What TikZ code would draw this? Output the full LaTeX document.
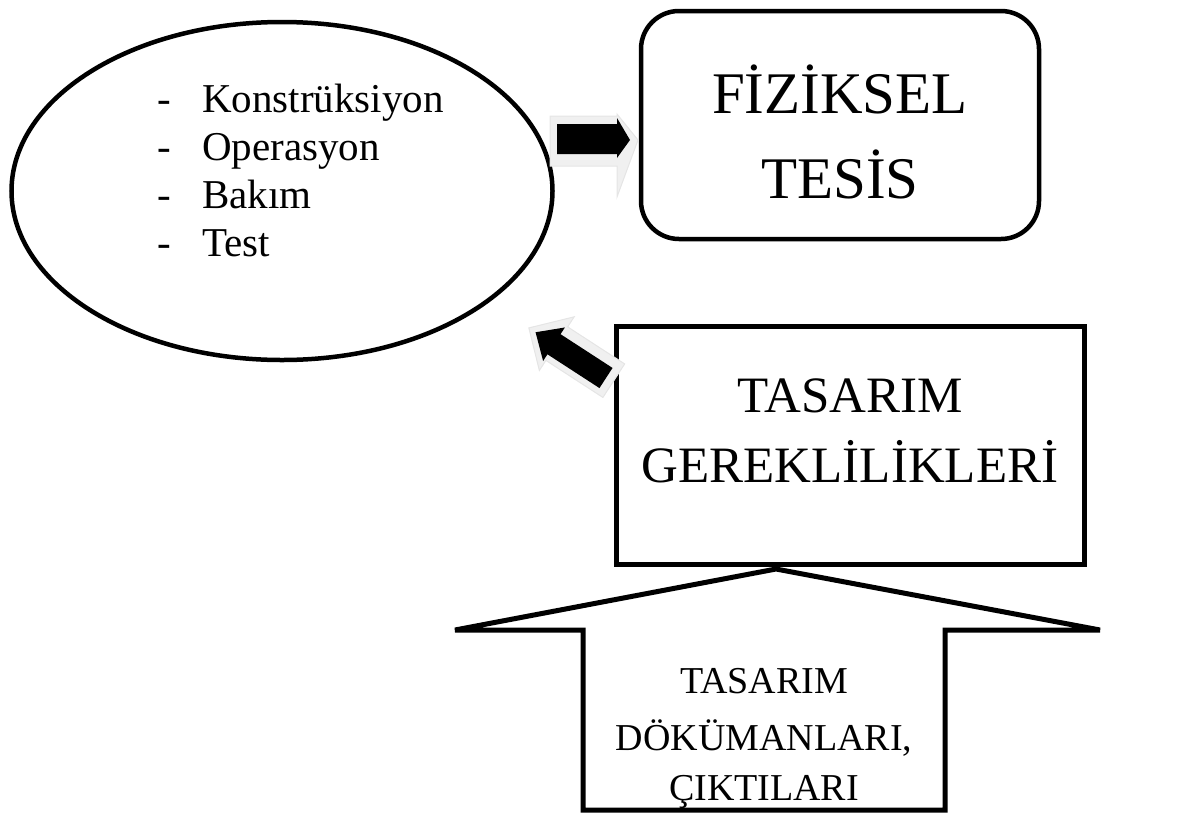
\documentclass[tikz,border=0pt]{standalone}
\usepackage{fontspec}
\setmainfont{Liberation Serif}
\newfontfamily\tnr{Liberation Serif}
\usetikzlibrary{shapes.geometric}
\begin{document}
\begin{tikzpicture}[x=1pt,y=-1pt,
  outline/.style={draw=black,line width=4.5pt},
  shadowarrow/.style={fill=gray!12,draw=gray!20,line width=1pt},
  blackarrow/.style={fill=black},
  lbl/.style={inner sep=0pt,font=\tnr},
  item/.style={anchor=base west,inner sep=0pt,font=\tnr\fontsize{41}{46}\selectfont}]
\useasboundingbox (0,0) rectangle (1181,812);
% ellipse with list
\node[ellipse,outline,minimum width=541pt,minimum height=338pt,inner sep=0pt] (ell) at (282,191) {};
\node[item] (d1) at (157,112) {-};
\node[item] (d2) at (157,160) {-};
\node[item] (d3) at (157,208) {-};
\node[item] (d4) at (157,256) {-};
\node[item] (l1) at (202,112) {Konstrüksiyon};
\node[item] (l2) at (202,160) {Operasyon};
\node[item] (l3) at (202,208) {Bakım};
\node[item] (l4) at (202,256) {Test};
% physical facility box
\node[outline,rounded corners=38pt,minimum width=398pt,minimum height=228pt,inner sep=0pt] (fiz) at (840,125) {};
\node[lbl,anchor=base,font=\tnr\fontsize{59}{70}\selectfont] (fiz1) at (840,113) {FİZİKSEL};
\node[lbl,anchor=base,font=\tnr\fontsize{59}{70}\selectfont] (fiz2) at (840,198) {TESİS};
% design requirements box
\node[outline,line width=5pt,minimum width=468pt,minimum height=238pt,inner sep=0pt] (gerek) at (850,445) {};
\node[lbl,anchor=base,font=\tnr\fontsize{51}{70}\selectfont] (ger1) at (850,412) {TASARIM};
\node[lbl,anchor=base,font=\tnr\fontsize{51}{70}\selectfont] (ger2) at (850,482) {GEREKLİLİKLERİ};
% big up arrow
\coordinate (tip) at (776,569);
\draw[outline,line width=5pt,line join=miter,fill=white]
  (583,810) -- (583,630) -- (455,630) -- (tip) -- (1100,630) -- (945,630) -- (945,810) -- cycle;
\node[lbl,anchor=base,font=\tnr\fontsize{38}{56}\selectfont] (a1) at (764,693) {TASARIM};
\node[lbl,anchor=base,font=\tnr\fontsize{38}{56}\selectfont] (a2) at (764,750) {DÖKÜMANLARI,};
\node[lbl,anchor=base,font=\tnr\fontsize{38}{56}\selectfont] (a3) at (764,800) {ÇIKTILARI};
% right block arrow (ellipse -> fiz)
\coordinate (ra) at (557,140);
\begin{scope}[shift={(ra)}]
  \path[shadowarrow] (-7,-24) -- (60,-24) -- (60,-26) -- (81,0) -- (60,57) -- (60,26) -- (-7,26) -- cycle;
  \path[blackarrow] (0,-16) -- (60,-16) -- (60,-22) -- (73,0) -- (60,18) -- (60,14) -- (0,14) -- cycle;
\end{scope}
% up-left block arrow (gerek -> ellipse)
\coordinate (la) at (606,378);
\begin{scope}[shift={(la)},rotate=147]
  \path[shadowarrow] (-8,-18) -- (60,-18) -- (60,-30) -- (92,0) -- (60,34) -- (60,22) -- (-8,22) -- cycle;
  \path[blackarrow] (0,-12) -- (62,-12) -- (62,-20) -- (84,0) -- (62,20) -- (62,12) -- (0,12) -- cycle;
\end{scope}
\end{tikzpicture}
\end{document}
